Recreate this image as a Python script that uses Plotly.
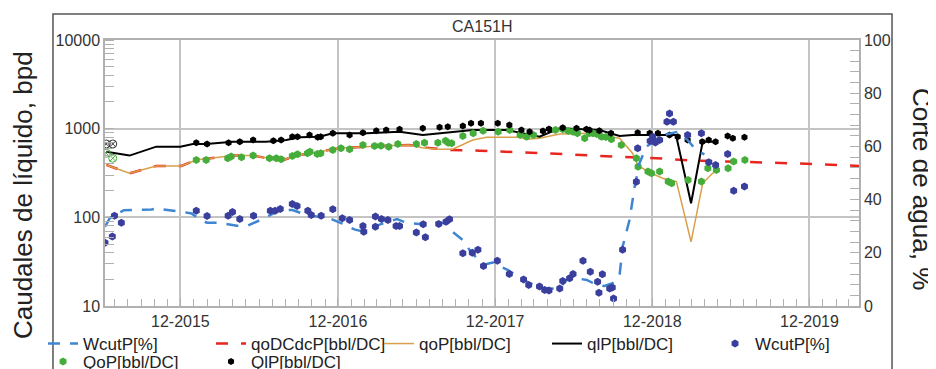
import plotly.graph_objects as go

# ---------------- data ----------------
wcut_line_dates = ["2015-06-09","2015-06-20","2015-07-01","2015-07-23","2015-08-22","2015-09-25","2015-10-09",
    "2015-10-21","2015-12-02","2015-12-27","2016-01-15","2016-02-01","2016-03-01","2016-04-10","2016-05-05",
    "2016-06-09","2016-07-20","2016-08-17","2016-09-20","2016-10-12","2016-11-11","2016-12-11","2017-01-08",
    "2017-01-28","2017-02-17","2017-04-17","2017-05-10","2017-06-15","2017-07-06","2017-08-10","2017-08-21",
    "2017-09-17","2017-10-03","2017-11-02","2017-11-25","2017-12-31","2018-01-24","2018-02-19","2018-03-14",
    "2018-04-07","2018-04-30","2018-05-16","2018-06-04","2018-07-02","2018-07-25","2018-08-12","2018-08-31",
    "2018-09-16","2018-09-23","2018-10-09","2018-10-21","2018-11-01","2018-11-17","2018-12-10","2019-01-02",
    "2019-01-29","2019-02-21","2019-03-13","2019-04-01"]
wcut_line_vals = [29.8,33.0,34.2,36.0,36.1,36.3,36.8,36.3,35.5,34.8,32.5,31.3,31.3,30.2,30.2,32.7,36.1,36.1,
    34.2,33.6,33.0,31.0,28.8,28.0,29.6,32.7,31.2,30.7,31.6,31.0,28.3,24.8,21.0,15.4,16.3,13.5,10.9,8.6,7.1,
    6.5,6.8,9.8,10.5,9.8,7.9,7.5,8.6,11.5,22.3,32.3,44.8,53.6,59.9,62.4,64.5,65.5,62.4,58.6,57.0]

qodc_dates = ["2015-06-12","2015-08-05","2015-10-06","2015-12-03","2016-01-07","2016-04-01","2016-05-17",
    "2016-07-04","2016-07-27","2016-09-03","2016-10-19","2016-11-19","2016-12-02","2017-03-06","2017-05-15",
    "2017-06-15","2017-08-17","2017-10-26","2018-01-10","2018-03-14","2018-05-16","2018-07-31","2018-12-11",
    "2019-03-01","2019-07-03","2019-10-15","2020-03-25"]
qodc_vals = [390,314,380,380,444,497,497,452,444,505,550,586,601,638,655,616,575,565,547,528,514,492,464,
    438,425,408,380]

qo_dates = ["2015-06-12","2015-08-05","2015-10-06","2015-12-03","2016-01-07","2016-04-01","2016-05-17",
    "2016-07-04","2016-07-27","2016-09-03","2016-10-19","2016-11-19","2016-12-02","2017-03-06","2017-05-15",
    "2017-06-15","2017-07-24","2017-08-24","2017-10-10","2017-11-11","2018-01-27","2018-02-12","2018-03-14",
    "2018-04-30","2018-07-08","2018-09-16","2018-10-16","2018-10-28","2018-11-20","2018-12-25","2019-01-26",
    "2019-03-01","2019-03-28","2019-04-20","2019-04-29"]
qo_vals = [390,314,380,380,444,497,497,452,444,505,550,586,601,638,655,611,586,586,746,800,800,759,779,
    871,887,779,528,390,328,276,253,53,242,314,328]

ql_dates = ["2015-06-12","2015-08-05","2015-10-06","2015-12-01","2015-12-30","2016-01-30","2016-04-01",
    "2016-05-17","2016-06-17","2016-08-03","2016-09-03","2016-10-19","2016-11-19","2017-02-06","2017-04-23",
    "2017-06-16","2017-07-31","2017-10-10","2017-12-28","2018-01-27","2018-03-14","2018-04-30","2018-07-31",
    "2018-09-16","2018-10-16","2019-01-25","2019-03-01","2019-03-28","2019-04-29"]
ql_vals = [550,497,627,627,672,672,714,714,714,746,800,812,887,887,925,849,887,967,967,901,812,1010,967,
    827,849,849,144,714,714]

wcut_pt_dates = ["2015-06-09","2015-06-26","2015-07-01","2015-07-17","2016-01-07","2016-02-01","2016-03-21",
    "2016-03-31","2016-04-17","2016-05-19","2016-06-27","2016-07-08","2016-07-20","2016-08-17","2016-08-28",
    "2016-09-22","2016-09-30","2016-10-23","2016-11-19","2016-12-11","2016-12-28","2017-01-28","2017-01-30",
    "2017-02-26","2017-02-26","2017-03-12","2017-03-27","2017-04-15","2017-04-23","2017-06-01","2017-06-17",
    "2017-06-22","2017-07-23","2017-08-09","2017-08-17","2017-09-17","2017-10-09","2017-10-22","2017-11-04",
    "2017-12-06","2018-01-03","2018-02-05","2018-02-17","2018-03-14","2018-03-26","2018-04-05","2018-04-30",
    "2018-05-07","2018-05-23","2018-05-31","2018-06-23","2018-07-10","2018-07-27","2018-07-30","2018-08-07",
    "2018-08-24","2018-08-30","2018-09-02","2018-09-23","2018-10-25","2018-10-28","2018-11-26","2018-12-02",
    "2018-12-08","2018-12-18","2019-01-04","2019-01-10","2019-01-19","2019-02-21","2019-03-25","2019-04-11",
    "2019-04-27","2019-05-25","2019-06-08","2019-07-03"]
wcut_pt_vals = [23.8,26.1,33.9,31.3,35.8,33.8,33.9,35.3,32.7,33.9,35.8,35.8,36.5,38.3,37.6,35.8,34.2,33.9,
    36.4,33.0,32.3,30.1,27.9,29.8,33.6,32.7,32.3,30.1,30.1,27.6,30.7,25.8,30.8,31.7,32.6,19.8,20.0,21.1,15.0,
    17.0,12.0,10.0,7.9,7.3,6.0,5.8,6.6,9.4,10.4,12.0,17.0,12.9,9.1,5.0,11.9,6.6,7.0,2.8,21.1,46.7,59.3,62.0,
    63.6,61.5,62.4,69.3,72.4,69.3,64.3,64.9,54.0,53.0,57.1,43.3,44.9]

qo_pt_dates = ["2016-01-07","2016-01-30","2016-03-20","2016-03-28","2016-04-21","2016-05-18","2016-06-25",
    "2016-07-11","2016-07-22","2016-08-17","2016-08-29","2016-09-21","2016-09-27","2016-10-14","2016-10-22",
    "2016-11-19","2016-12-08","2016-12-28","2017-01-28","2017-02-24","2017-03-11","2017-03-29","2017-04-19",
    "2017-06-01","2017-06-20","2017-07-21","2017-08-08","2017-08-14","2017-08-22","2017-09-17","2017-10-11",
    "2017-11-03","2017-12-08","2018-01-04","2018-01-28","2018-02-12","2018-02-28","2018-04-20","2018-05-07",
    "2018-05-20","2018-05-31","2018-06-10","2018-06-27","2018-07-08","2018-07-16","2018-07-25","2018-08-05",
    "2018-08-15","2018-08-28","2018-09-20","2018-10-25","2018-10-29","2018-11-21","2018-11-29","2018-12-18",
    "2019-01-07","2019-01-15","2019-02-22","2019-03-25","2019-04-09","2019-04-29","2019-05-26","2019-06-08",
    "2019-07-04"]
qo_pt_vals = [444,444,464,484,476,497,464,464,452,492,513,528,550,519,528,575,601,586,655,638,643,627,672,
    672,695,695,732,695,684,827,887,950,925,967,849,812,849,967,985,943,925,887,779,887,887,871,812,806,759,
    655,464,373,328,314,328,253,242,264,253,358,342,358,425,444]

ql_pt_dates = ["2016-01-07","2016-02-01","2016-03-22","2016-04-17","2016-05-18","2016-07-04","2016-07-22",
    "2016-08-17","2016-08-29","2016-09-26","2016-10-15","2016-10-22","2016-11-19","2016-12-28","2017-01-28",
    "2017-02-28","2017-03-23","2017-04-23","2017-06-16","2017-07-25","2017-08-13","2017-09-17","2017-10-06",
    "2017-10-29","2017-12-07","2018-01-03","2018-01-31","2018-02-19","2018-03-22","2018-04-05","2018-05-07",
    "2018-06-08","2018-07-01","2018-07-08","2018-07-31","2018-08-27","2018-10-28","2018-11-25","2018-12-14",
    "2019-01-10","2019-01-29","2019-02-21","2019-03-27","2019-04-11","2019-04-27","2019-05-25","2019-06-06",
    "2019-07-03"]
ql_pt_vals = [695,672,695,714,746,732,746,812,812,849,800,812,887,849,901,950,967,985,1010,1037,1053,1072,
    1150,1150,1150,1100,967,925,942,992,1026,1010,985,967,950,887,901,887,887,849,812,746,714,746,714,827,
    779,800]

# excluded (hollow) points at the start
qo_excl_dates = ["2015-06-12","2015-06-27"]
qo_excl_vals = [528,464]
ql_excl_dates = ["2015-06-12","2015-06-27"]
ql_excl_vals = [672,672]

x_range = ["2015-06-09", "2020-03-25"]

FONT = "Liberation Sans, Arial, sans-serif"
BLUE_L = "#3f86d2"
BLUE_M = "#3a3f9e"
RED = "#e8261f"
ORANGE = "#d9a04a"
GREEN = "#45ad3a"

fig = go.Figure()
fig.add_trace(go.Scatter(x=wcut_line_dates, y=wcut_line_vals, name="WcutP[%]", yaxis="y2", mode="lines",
                         line=dict(color=BLUE_L, width=2.5, dash="12px,10px"), legend="legend"))
fig.add_trace(go.Scatter(x=qodc_dates, y=qodc_vals, name="qoDCdcP[bbl/DC]", mode="lines",
                         line=dict(color=RED, width=2.5, dash="12px,13px"), legend="legend"))
fig.add_trace(go.Scatter(x=qo_dates, y=qo_vals, name="qoP[bbl/DC]", mode="lines",
                         line=dict(color=ORANGE, width=1.5), legend="legend"))
fig.add_trace(go.Scatter(x=ql_dates, y=ql_vals, name="qlP[bbl/DC]", mode="lines",
                         line=dict(color="black", width=2), legend="legend"))
fig.add_trace(go.Scatter(x=wcut_pt_dates, y=wcut_pt_vals, name="WcutP[%]", yaxis="y2", mode="markers",
                         marker=dict(color=BLUE_M, size=8, symbol="hexagon"), legend="legend"))
fig.add_trace(go.Scatter(x=qo_pt_dates, y=qo_pt_vals, name="QoP[bbl/DC]", mode="markers",
                         marker=dict(color=GREEN, size=8, symbol="hexagon"), legend="legend2"))
fig.add_trace(go.Scatter(x=ql_pt_dates, y=ql_pt_vals, name="QlP[bbl/DC]", mode="markers",
                         marker=dict(color="black", size=7, symbol="hexagon"), legend="legend2"))
fig.add_trace(go.Scatter(x=qo_excl_dates, y=qo_excl_vals, mode="markers", showlegend=False,
                         marker=dict(color=GREEN, size=8, symbol="circle-x-open", line=dict(width=1))))
fig.add_trace(go.Scatter(x=ql_excl_dates, y=ql_excl_vals, mode="markers", showlegend=False,
                         marker=dict(color="#333", size=8, symbol="circle-x-open", line=dict(width=1))))

GRID = "#c4c4c4"
LEG = dict(orientation="h", x=-0.0822, xanchor="left", yanchor="top",
           entrywidth=123, entrywidthmode="pixels", font=dict(size=17, color="#222"),
           bgcolor="rgba(0,0,0,0)", tracegroupgap=0, itemwidth=30)
# the page body adds an 8px offset, so the figure is 8px smaller with margins shifted accordingly
fig.update_layout(
    width=928, height=361,
    margin=dict(l=97, r=77, t=32, b=63, autoexpand=False),
    paper_bgcolor="white", plot_bgcolor="white",
    font=dict(family=FONT, size=16, color="#333"),
    showlegend=True,
    legend=dict(LEG, y=-0.0752),
    legend2=dict(LEG, y=-0.1428),
    xaxis=dict(type="date", range=x_range, tickmode="linear", tick0="2015-12-01", dtick="M12",
               tickformat="%m-%Y", showgrid=True, gridcolor=GRID, gridwidth=1.5,
               showline=True, linecolor="#b0b0b0", linewidth=1.5, mirror=True,
               ticks="inside", ticklen=8, tickcolor="#b0b0b0",
               minor=dict(dtick="M1", tick0="2015-12-01", ticks="inside", ticklen=7, tickcolor="#b0b0b0",
                          showgrid=False),
               tickfont=dict(size=16, color="#333"), zeroline=False),
    yaxis=dict(type="log", range=[1, 4], tickmode="array", tickvals=[10, 100, 1000, 10000],
               ticktext=["10", "100", "1000", "10000"],
               showgrid=True, gridcolor=GRID, gridwidth=1.5,
               showline=True, linecolor="#b0b0b0", linewidth=1.5, mirror=False,
               ticks="", minor=dict(dtick="D1", ticks="inside", ticklen=9, tickcolor="#b0b0b0", showgrid=False),
               tickfont=dict(size=16, color="#333"), zeroline=False),
    yaxis2=dict(overlaying="y", side="right", range=[0, 100], dtick=20, showgrid=False,
                showline=True, linecolor="#b0b0b0", linewidth=1.5,
                ticks="inside", ticklen=9, tickcolor="#b0b0b0",
                minor=dict(dtick=4, ticks="inside", ticklen=9, tickcolor="#b0b0b0", showgrid=False),
                tickfont=dict(size=16, color="#333"), zeroline=False),
)

# outer frame and title band
fig.add_shape(type="rect", xref="paper", yref="paper", x0=-0.069, x1=1.0438, y0=-0.4, y1=1.0977,
              line=dict(color="#555", width=1.5), fillcolor="rgba(0,0,0,0)", layer="below")
fig.add_annotation(text="CA151H", xref="paper", yref="paper", x=0.5, y=1.049, showarrow=False,
                   font=dict(size=16, color="#333"), yanchor="middle")
fig.add_annotation(text="Caudales de líquido, bpd", xref="paper", yref="paper", x=-0.1088, y=0.417,
                   textangle=-90, showarrow=False, font=dict(size=26, color="#222"),
                   xanchor="center", yanchor="middle")
fig.add_annotation(text="Corte de agua, %", xref="paper", yref="paper", x=1.0836, y=0.44,
                   textangle=90, showarrow=False, font=dict(size=26, color="#222"),
                   xanchor="center", yanchor="middle")

fig.write_html("out.html")
